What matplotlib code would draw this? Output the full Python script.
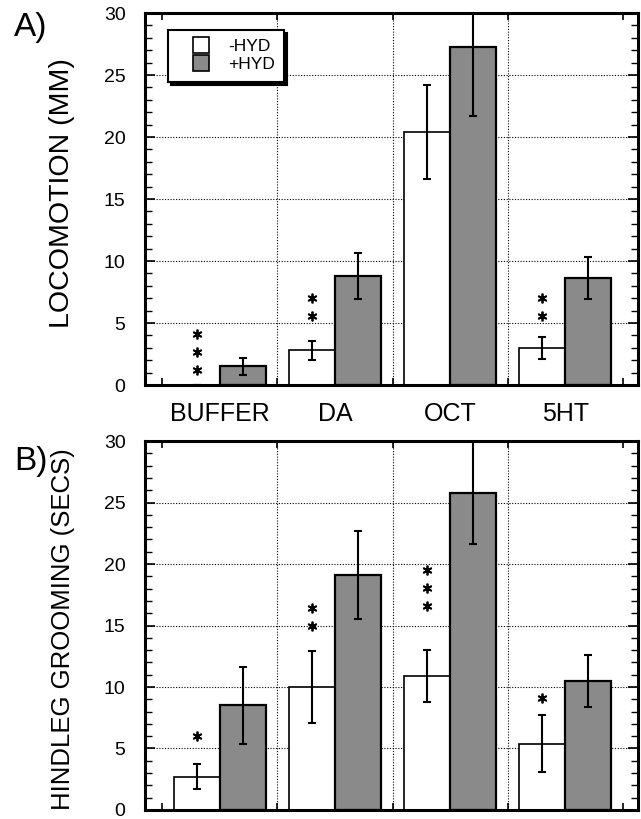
import numpy as np
import matplotlib.pyplot as plt
from matplotlib.lines import Line2D

plt.rcParams['font.family'] = ['Liberation Sans', 'DejaVu Sans']

groups = ["BUFFER", "DA", "OCT", "5HT"]

# panel A: locomotion (mm)
loco_minus = [0.0, 2.8, 20.4, 3.0]
loco_minus_err = [0.0, 0.75, 3.8, 0.9]
loco_plus = [1.5, 8.8, 27.3, 8.6]
loco_plus_err = [0.7, 1.85, 5.6, 1.7]
loco_stars = [3, 2, 0, 2]
loco_star_y = [1.2, 5.6, 0.0, 5.6]

# panel B: hindleg grooming (secs)
groom_minus = [2.7, 10.0, 10.9, 5.4]
groom_minus_err = [1.0, 2.9, 2.1, 2.35]
groom_plus = [8.5, 19.1, 25.8, 10.5]
groom_plus_err = [3.1, 3.55, 4.2, 2.1]
groom_stars = [1, 2, 3, 1]
groom_star_y = [6.0, 15.0, 16.6, 9.1]

GRAY = "#8a8a8a"


def draw_panel(ax, minus, minus_err, plus, plus_err, stars, star_y, ylabel, label_size, show_labels):
    x = np.arange(len(groups))
    ax.bar(x + 0.3, minus, width=0.4, color="white", edgecolor="black", linewidth=1.2, zorder=2)
    ax.bar(x + 0.7, plus, width=0.4, color=GRAY, edgecolor="black", linewidth=1.6, zorder=2)
    ax.errorbar(x + 0.3, minus, yerr=minus_err, fmt="none", ecolor="black",
                elinewidth=1.5, capsize=3, capthick=1.5, zorder=3)
    ax.errorbar(x + 0.7, plus, yerr=plus_err, fmt="none", ecolor="black",
                elinewidth=1.5, capsize=3, capthick=1.5, zorder=3)

    for i in range(len(groups)):
        for k in range(stars[i]):
            ax.plot(i + 0.3, star_y[i] + 1.45 * k, marker=(6, 2, 0), ms=7,
                    mew=1.3, color="black", zorder=4)

    ax.set_xlim(-0.15, 4.13)
    ax.set_ylim(0, 30)

    ax.set_yticks(np.arange(0, 31, 5))
    ax.set_yticks(np.arange(0, 31, 1), minor=True)
    ax.yaxis.grid(True, linestyle=(0, (1, 1.5)), color="black", linewidth=0.8)
    for gx in [1, 2, 3]:
        ax.axvline(gx, linestyle=(0, (1, 1.5)), color="black", linewidth=0.8, zorder=0.5)
    ax.set_axisbelow(True)

    ax.set_xticks(x + 0.5)
    if show_labels:
        ax.set_xticklabels(groups, fontsize=18)
    else:
        ax.set_xticklabels([])
    ax.set_xticks(np.arange(0, 4.01, 0.5), minor=True)

    ax.tick_params(axis="x", which="major", length=0, pad=12)
    ax.tick_params(axis="x", which="minor", direction="in", length=5, width=1.2,
                   top=True, bottom=True)
    ax.tick_params(axis="y", which="major", direction="in", length=7, width=1.2,
                   left=True, right=True, labelsize=14, pad=14)
    ax.tick_params(axis="y", which="minor", direction="in", length=5, width=1.0,
                   left=True, right=True)

    for s in ax.spines.values():
        s.set_linewidth(2.2)

    ax.set_ylabel(ylabel, fontsize=label_size)


fig = plt.figure(figsize=(6.41, 8.19), dpi=100)
ax1 = fig.add_axes([0.2262, 0.5299, 0.769, 0.4542])
ax2 = fig.add_axes([0.2262, 0.011, 0.769, 0.4505])

draw_panel(ax1, loco_minus, loco_minus_err, loco_plus, loco_plus_err,
           loco_stars, loco_star_y, "LOCOMOTION (MM)", 20.5, True)
draw_panel(ax2, groom_minus, groom_minus_err, groom_plus, groom_plus_err,
           groom_stars, groom_star_y, "HINDLEG GROOMING (SECS)", 18.5, False)

ax1.yaxis.set_label_coords(-0.143, 0.515)
ax2.yaxis.set_label_coords(-0.143, 0.49)

handles = [Line2D([], [], linestyle="none", marker="s", ms=11, mfc="white",
                  mec="black", mew=1.2, label="-HYD"),
           Line2D([], [], linestyle="none", marker="s", ms=11, mfc=GRAY,
                  mec="black", mew=1.2, label="+HYD")]
leg = ax1.legend(handles=handles, loc="upper left", bbox_to_anchor=(0.047, 0.955),
                 fontsize=12.5, frameon=True, fancybox=False,
                 shadow={"color": "black", "alpha": 1.0},
                 handlelength=2.7, handletextpad=0.2,
                 labelspacing=0.15, borderpad=0.55, borderaxespad=0)
leg.get_frame().set_edgecolor("black")
leg.get_frame().set_linewidth(1.5)
leg.set_zorder(10)

fig.text(0.022, 0.985, "A)", fontsize=24, va="top", ha="left")
fig.text(0.022, 0.456, "B)", fontsize=24, va="top", ha="left")

fig.savefig("out.png", dpi=100)
